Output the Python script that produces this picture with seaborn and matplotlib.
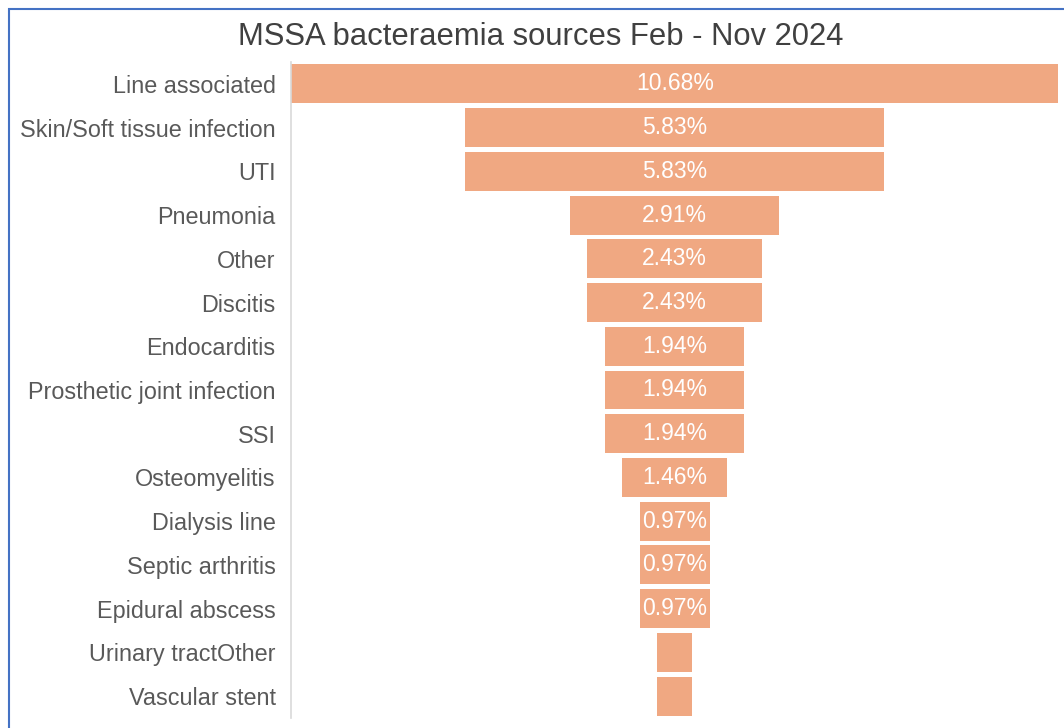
import matplotlib
matplotlib.use("Agg")
import matplotlib.pyplot as plt
import seaborn as sns
import pandas as pd
from matplotlib.patches import Rectangle

categories = ["Line associated", "Skin/Soft tissue infection", "UTI", "Pneumonia", "Other",
              "Discitis", "Endocarditis", "Prosthetic joint infection", "SSI", "Osteomyelitis",
              "Dialysis line", "Septic arthritis", "Epidural abscess", "Urinary tractOther",
              "Vascular stent"]
values = [10.68, 5.83, 5.83, 2.91, 2.43, 2.43, 1.94, 1.94, 1.94, 1.46, 0.97, 0.97, 0.97, 0.49, 0.49]
show_label = [True] * 13 + [False, False]
title = "MSSA bacteraemia sources Feb - Nov 2024"

df = pd.DataFrame({"cat": categories, "val": values})
df["half"] = df["val"] / 2
df["neg"] = -df["val"] / 2

sns.set_theme(style="white")
plt.rcParams["font.family"] = ["Liberation Sans", "DejaVu Sans"]

W, H = 1064, 728
fig = plt.figure(figsize=(W / 100, H / 100), dpi=100)
ax = fig.add_axes([291 / W, 1 - 718 / H, (1059 - 291) / W, (718 - 62) / H])

color = "#F0A882"
sns.barplot(data=df, x="half", y="cat", order=categories, color=color, width=0.89,
            saturation=1, ax=ax, edgecolor="none", orient="h")
sns.barplot(data=df, x="neg", y="cat", order=categories, color=color, width=0.89,
            saturation=1, ax=ax, edgecolor="none", orient="h")

m = max(values) / 2
ax.set_xlim(-m * 1.0, m * 1.0015)
ax.set_ylim(len(categories) - 0.5, -0.5)
ax.set_xlabel("")
ax.set_ylabel("")
ax.set_xticks([])
ax.tick_params(axis="y", length=0, pad=11, labelsize=16.8, labelcolor="#595959")
for s in ["top", "right", "bottom"]:
    ax.spines[s].set_visible(False)
ax.spines["left"].set_color("#D9D9D9")
ax.spines["left"].set_linewidth(1.2)

for i, (v, show) in enumerate(zip(values, show_label)):
    if show:
        ax.text(0, i, f"{v:.2f}%", ha="center", va="center", color="white", fontsize=16.5)

fig.text(541 / W, 1 - 37 / H, title, ha="center", va="center", fontsize=22.3, color="#404040")

fig.patches.append(Rectangle((8.5 / W, -0.1), 1.2, 1.1 - 9.5 / H, transform=fig.transFigure,
                             fill=False, edgecolor="#4472C4", linewidth=1.5))

fig.savefig("out.png", dpi=100, facecolor="white")
